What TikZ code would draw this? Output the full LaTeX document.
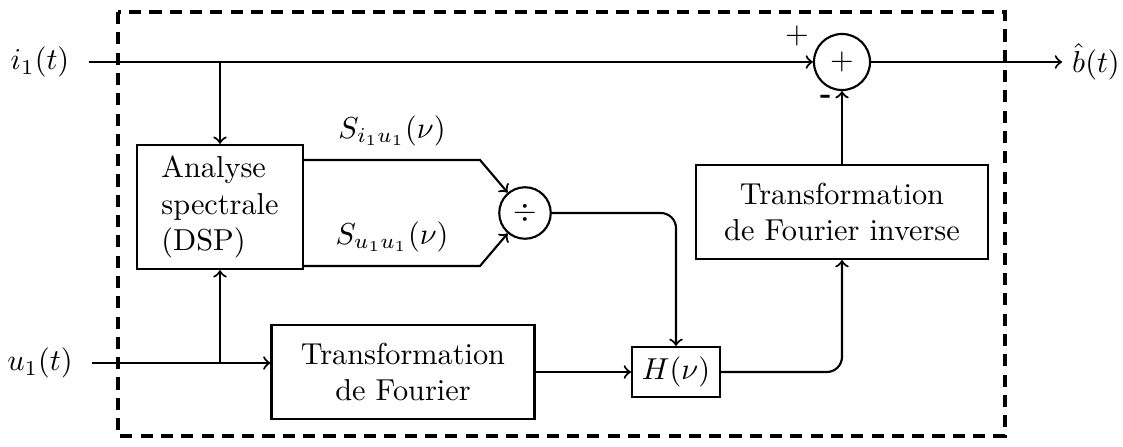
\documentclass[tikz,border=0pt]{standalone}
\usetikzlibrary{positioning}
\begin{document}
\begin{tikzpicture}[>=to, x=0.33pt, y=-0.33pt, line width=0.7pt,
  bloc/.style={draw, align=center, inner sep=2pt},
  rond/.style={draw, circle, inner sep=0pt},
  entree/.style={inner xsep=6pt, inner ysep=0pt},
  cadre/.style={line width=1.1pt, dash pattern=on 4pt off 2.7pt}]
\useasboundingbox (0,0) rectangle (1123,447);
% cadre du bloc
\draw[cadre] (118,12) rectangle (1005,436);
% entrees / sortie
\node[entree] (i1) at (40,62) {$i_1(t)$};
\node[entree] (u1) at (40,363) {$u_1(t)$};
\node[inner xsep=3pt] (bt) at (1096,62) {$\hat{b}(t)$};
% blocs
\node[bloc, align=left, minimum width=54.8pt, minimum height=41pt] (dsp) at (220,207) {Analyse\\spectrale\\(DSP)};
\node[bloc, minimum width=86.8pt, minimum height=31pt] (tf) at (403,372) {Transformation\\de Fourier};
\node[bloc, minimum width=29pt, minimum height=16.5pt] (h) at (676,372) {$H(\nu)$};
\node[bloc, minimum width=96.4pt, minimum height=31pt] (tfi) at (842,212) {Transformation\\de Fourier inverse};
\node[rond, minimum size=17pt] (div) at (525,213) {$\div$};
\node[rond, minimum size=18.5pt] (som) at (842,62) {$+$};
\node (plus) at (797,36) {$+$};
\node (moins) at (826,99) {\textbf{-}};
\coordinate (c1) at (480,160);
\coordinate (c2) at (480,266);
% liaisons
\draw[->] (i1) -- (som);
\draw[->] (dsp |- i1) -- (dsp);
\draw[->] (u1) -- (u1 -| tf.west);
\draw[->] (dsp |- u1) -- (dsp);
\draw[->] (dsp.east |- c1) -- node[above=1pt] {$S_{i_1u_1}(\nu)$} (c1) -- (div);
\draw[->] (dsp.east |- c2) -- node[above=1pt] {$S_{u_1u_1}(\nu)$} (c2) -- (div);
\draw[->, rounded corners=5pt] (div) -| (h);
\draw[->] (tf) -- (h);
\draw[->, rounded corners=5pt] (h) -| (tfi);
\draw[->] (tfi) -- (som);
\draw[->] (som) -- (bt);
\end{tikzpicture}
\end{document}
